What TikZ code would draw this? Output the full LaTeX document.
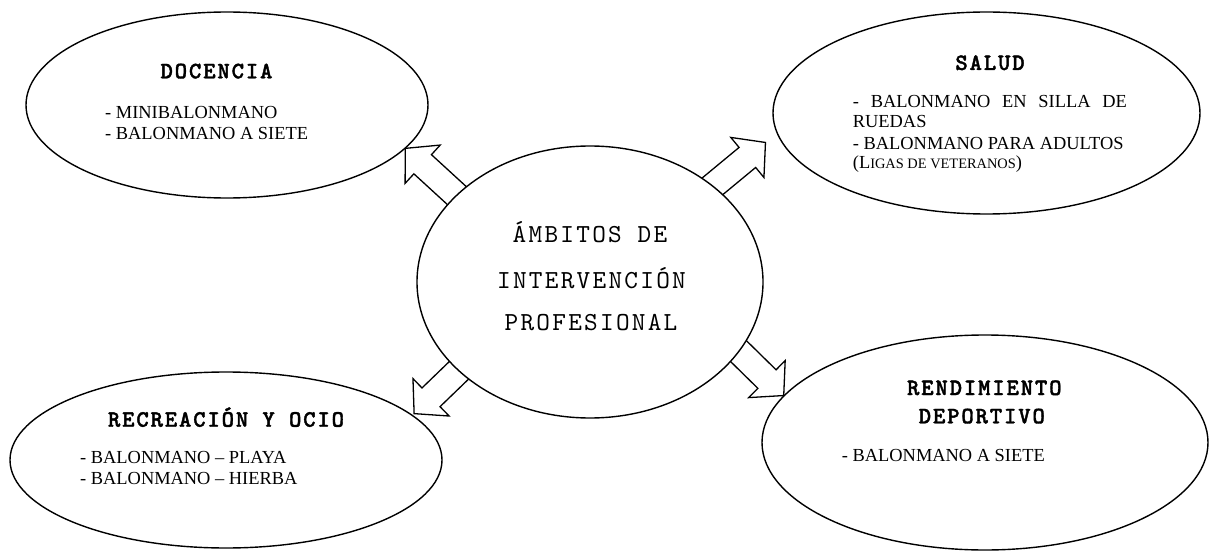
\documentclass[tikz,border=0pt]{standalone}
\usepackage{fontspec}
\setmainfont{Liberation Serif}
\newfontfamily\couriertitle{lmmonolt10-bold.otf}[LetterSpace=8, FakeBold=1.6]
\newfontfamily\couriercore{lmmono10-regular.otf}[LetterSpace=8.7]
\usetikzlibrary{shapes.geometric}
\pgfdeclarelayer{bg}
\pgfsetlayers{bg,main}

\tikzset{
  field/.style={ellipse, draw, line width=1.4pt, fill=white, inner sep=0pt, outer sep=0pt},
  fieldtitle/.style={anchor=base, inner sep=0pt, font=\couriertitle\fontsize{23.5}{27}\selectfont},
  item/.style={anchor=base west, inner sep=0pt, font=\fontsize{18.4}{21}\selectfont},
  coretext/.style={anchor=base, inner sep=0pt, font=\couriercore\fontsize{26}{30}\selectfont},
  blockarrow/.style={draw, line width=1.3pt, fill=white, line join=miter},
}

% hollow block arrow leaving a border point: #1 start, #2 direction, #3 length
\newcommand\outarrow[3]{%
  \begin{scope}[shift={(#1)}, rotate=#2]
    \draw[blockarrow] (-15,13) -- (#3-23.5,13) -- (#3-23.5,26) -- (#3,0)
      -- (#3-23.5,-26) -- (#3-23.5,-13) -- (-15,-13);
  \end{scope}}

\begin{document}
\begin{tikzpicture}[x=1pt, y=1pt]
\useasboundingbox (0,0) rectangle (1213,550);

% fields of intervention
\node[field, minimum width=402pt, minimum height=186pt] (doc) at (227,445) {};
\node[field, minimum width=427pt, minimum height=202pt] (sal) at (986.5,437) {};
\node[field, minimum width=432pt, minimum height=176pt] (rec) at (226,90) {};
\node[field, minimum width=446pt, minimum height=215pt] (ren) at (985,107.5) {};
\node[field, minimum width=346pt, minimum height=272pt] (centre) at (590,268) {};

% arrows from the central ellipse
\begin{pgfonlayer}{bg}
  \outarrow{centre.147}{137.5}{69.6}
  \outarrow{centre.38}{39.6}{68.5}
  \outarrow{centre.-25}{-44.5}{63}
  \outarrow{centre.214}{224}{62}
\end{pgfonlayer}

% central label
\node[coretext] (c1) at (590,307.3) {ÁMBITOS DE};
\node[coretext] (c2) at (591.5,261.7) {INTERVENCIÓN};
\node[coretext] (c3) at (591,219.3) {PROFESIONAL};

% DOCENCIA
\node[fieldtitle] (docT) at (216.5,471.7) {DOCENCIA};
\node[item] (doc1) at (105,431.7) {- MINIBALONMANO};
\node[item] (doc2) at (105,410.7) {- BALONMANO A SIETE};

% SALUD
\node[fieldtitle] (salT) at (990,480) {SALUD};
\node[item] (sal1) at (852.7,442.3) {\makebox[274pt][s]{- BALONMANO EN SILLA DE}};
\node[item] (sal2) at (852.7,422.7) {RUEDAS};
\node[item] (sal3) at (852.7,400.7) {- BALONMANO PARA ADULTOS};
\node[item] (sal4) at (852.7,381.7) {(L{\fontsize{14.4}{17}\selectfont IGAS DE VETERANOS})};

% RECREACIÓN Y OCIO
\node[fieldtitle] (recT) at (226,123.3) {RECREACIÓN Y OCIO};
\node[item] (rec1) at (80,86.7) {- BALONMANO – PLAYA};
\node[item] (rec2) at (80,66) {- BALONMANO – HIERBA};

% RENDIMIENTO DEPORTIVO
\node[fieldtitle] (renT1) at (984.3,155) {RENDIMIENTO};
\node[fieldtitle] (renT2) at (981.8,126.7) {DEPORTIVO};
\node[item] (ren1) at (841.7,88.3) {- BALONMANO A SIETE};
\end{tikzpicture}
\end{document}
